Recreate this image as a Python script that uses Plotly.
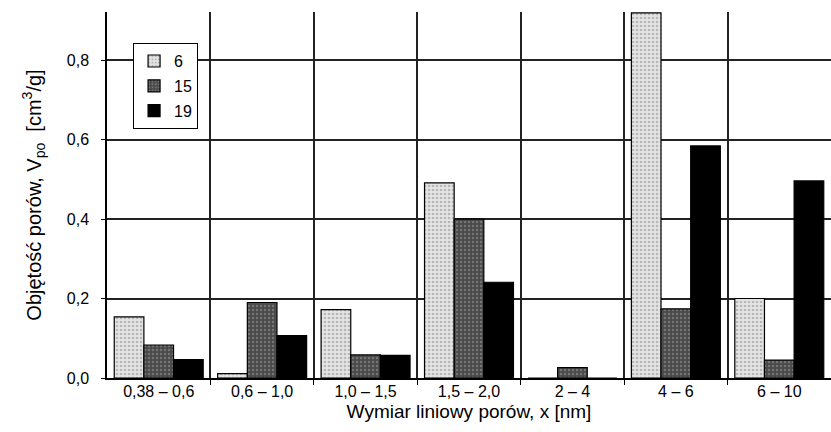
import plotly.graph_objects as go

categories = ["0,38 – 0,6", "0,6 – 1,0", "1,0 – 1,5", "1,5 – 2,0", "2 – 4", "4 – 6", "6 – 10"]
series_names = ["6", "15", "19"]
v6 = [0.154, 0.011, 0.172, 0.491, 0.0, 0.919, 0.200]
v15 = [0.083, 0.190, 0.058, 0.400, 0.026, 0.174, 0.045]
v19 = [0.046, 0.107, 0.057, 0.241, 0.0, 0.584, 0.496]
y_tickvals = [0.0, 0.2, 0.4, 0.6, 0.8]
y_ticktext = ["0,0", "0,2", "0,4", "0,6", "0,8"]

x_idx = list(range(len(categories)))
boundaries = [i + 0.5 for i in x_idx[:-1]]

styles = [
    dict(color="#e4e4e4", pattern=dict(shape=".", fgcolor="#8a8a8a", bgcolor="#e4e4e4", size=4, solidity=0.35)),
    dict(color="#555555", pattern=dict(shape=".", fgcolor="#a0a0a0", bgcolor="#4a4a4a", size=4, solidity=0.3)),
    dict(color="#000000"),
]

fig = go.Figure()
for name, vals, st in zip(series_names, [v6, v15, v19], styles):
    fig.add_trace(go.Bar(
        x=x_idx, y=vals, name=name, legendgroup=name,
        marker=dict(line=dict(color="black", width=1.2), **st),
    ))

fig.update_layout(
    width=831, height=432,
    margin=dict(l=107, r=0, t=12, b=54),
    paper_bgcolor="white", plot_bgcolor="white",
    font=dict(family="Liberation Sans, Arial, sans-serif", size=16, color="black"),
    barmode="group", bargap=0.14, bargroupgap=0,
    showlegend=True,
    legend=dict(
        x=0.036, y=0.915, xanchor="left", yanchor="top",
        bordercolor="black", borderwidth=1, bgcolor="white",
        font=dict(size=16), tracegroupgap=1, itemwidth=30,
    ),
    xaxis=dict(
        range=[-0.5, len(categories) - 0.5],
        tickmode="array", tickvals=x_idx, ticktext=categories,
        ticks="", showgrid=False, zeroline=False,
        showline=True, linecolor="black", linewidth=1.5,
        tickfont=dict(size=16), ticklabelstandoff=-2,
        minor=dict(tickmode="array", tickvals=boundaries, showgrid=True,
                   gridcolor="#222222", gridwidth=1.5, ticks="outside", ticklen=5, tickcolor="black"),
        title=dict(text="Wymiar liniowy porów, x [nm]", font=dict(size=19), standoff=6),
    ),
    yaxis=dict(
        range=[0, 0.921],
        tickmode="array", tickvals=y_tickvals, ticktext=y_ticktext,
        ticks="outside", ticklen=4, tickcolor="black",
        showgrid=True, gridcolor="#222222", gridwidth=1.5,
        zeroline=False, showline=True, linecolor="black", linewidth=1.5,
        tickfont=dict(size=16), ticklabelstandoff=9,
        title=dict(text="Objętość porów, V<sub>po</sub>  [cm<sup>3</sup>/g]", font=dict(size=20), standoff=20),
    ),
)

fig.write_html("out.html")
